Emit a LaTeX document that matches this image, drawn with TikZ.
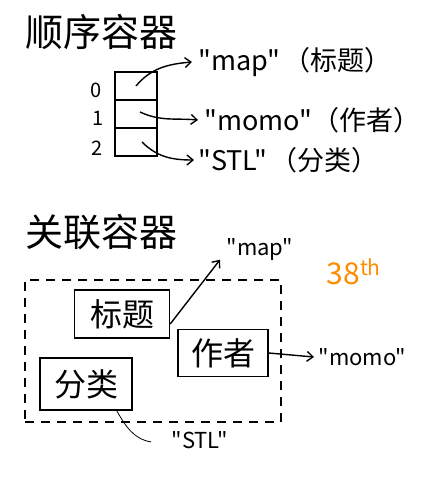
\documentclass[tikz,border=0pt]{standalone}
\usepackage{fontspec}
\setmainfont{Noto Sans CJK SC}
\newfontfamily\hw{Noto Sans CJK SC}
\usetikzlibrary{arrows.meta}
\definecolor{hworange}{RGB}{255,140,0}
\begin{document}
\begin{tikzpicture}[x=1pt,y=1pt, line width=1.4pt,
  cell/.style={draw, minimum width=42pt, minimum height=28pt, inner sep=0pt},
  title/.style={font=\hw\fontsize{38}{40}\selectfont, inner sep=0pt},
  lbl/.style={font=\hw\fontsize{27}{29}\selectfont, inner sep=0pt},
  slbl/.style={font=\hw\fontsize{22}{24}\selectfont, inner sep=0pt},
  idx/.style={font=\hw\fontsize{20}{22}\selectfont, inner sep=0pt},
  kbox/.style={draw, font=\hw\fontsize{32}{34}\selectfont, inner sep=0pt},
  frame/.style={draw, dashed, dash pattern=on 9pt off 7pt, line width=1.2pt},
  arr/.style={-{Straight Barb[length=6pt,width=10pt]}},
]
\useasboundingbox (0,0) rectangle (420,-478);

% sequential container
\node[title] (t1) at (101,-32) {顺序容器};
\node[cell] (r0) at (136,-86) {};
\node[cell] (r1) at (136,-114) {};
\node[cell] (r2) at (136,-142) {};
\node[idx] (i0) at (96,-90) {0};
\node[idx] (i1) at (98,-118) {1};
\node[idx] (i2) at (97,-148) {2};
\node[lbl, anchor=west] (s0) at (198,-62) {"map"\kern3pt（标题）};
\node[lbl, anchor=west] (s1) at (204,-120) {"momo"（作者）};
\node[lbl, anchor=west] (s2) at (198,-160) {"STL"\kern3pt（分类）};
\draw[arr] (r0.center) to[out=50,in=185] ([xshift=-6pt]s0.west);
\draw[arr] ([xshift=4pt,yshift=2pt]r1.center) to[out=-25,in=175] ([xshift=-6pt]s1.west);
\draw[arr] ([xshift=6pt]r2.center) to[out=-45,in=180] ([xshift=-4pt]s2.west);

% associative container
\node[title] (t2) at (101,-232) {关联容器};
\node[frame, minimum width=256pt, minimum height=142pt] (fr) at (153,-351) {};
\node[kbox, minimum width=95pt, minimum height=48pt] (b1) at (122,-314) {标题};
\node[kbox, minimum width=90pt, minimum height=47pt] (b2) at (223,-353) {作者};
\node[kbox, minimum width=92pt, minimum height=52pt] (b3) at (86,-384) {分类};
\node[slbl] (m1) at (260,-250) {"map"};
\node[slbl, anchor=west] (m2) at (318,-357) {"momo"};
\node[slbl] (m3) at (200,-440) {"STL"};
\draw[arr] ([yshift=-10pt]b1.east) -- ([xshift=-6pt,yshift=2pt]m1.south west);
\draw[arr] (b2.east) -- ([xshift=-4pt]m2.west);
\draw[line width=0.8pt] ([xshift=-16pt]b3.south east) to[out=-60,in=170] ([xshift=-20pt,yshift=-2pt]m3.west);
\node[text=hworange, font=\hw\fontsize{30}{32}\selectfont, inner sep=0pt] (n38) at (354,-272) {38\textsuperscript{th}};
\end{tikzpicture}
\end{document}
